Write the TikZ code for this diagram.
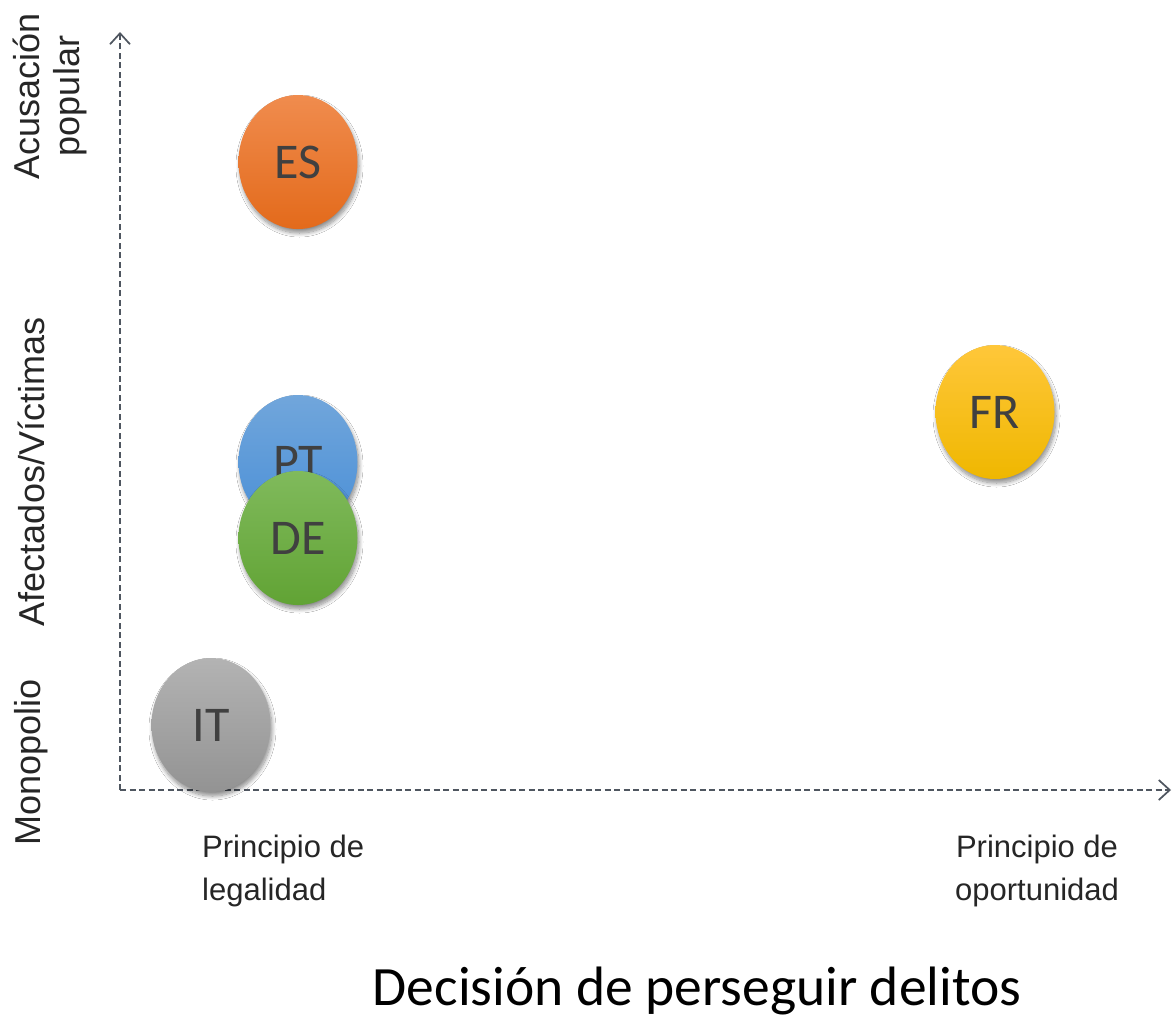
\documentclass[tikz,border=0pt]{standalone}
\usepackage{fontspec}
\setmainfont{Liberation Sans}
\newfontfamily\calib{Carlito}
\usetikzlibrary{shapes.geometric,arrows.meta,shadows.blur}
\definecolor{axisgray}{HTML}{4F5660}
\definecolor{txtgray}{HTML}{404040}
\definecolor{labgray}{HTML}{262626}
\definecolor{esTop}{HTML}{F08C4E}
\definecolor{esBot}{HTML}{E36A1B}
\definecolor{ptTop}{HTML}{71A6DB}
\definecolor{ptBot}{HTML}{4A8FD7}
\definecolor{deTop}{HTML}{80BA5C}
\definecolor{deBot}{HTML}{61A334}
\definecolor{itTop}{HTML}{B3B3B3}
\definecolor{itBot}{HTML}{939393}
\definecolor{frTop}{HTML}{FFC73A}
\definecolor{frBot}{HTML}{EFB700}
\begin{document}
\begin{tikzpicture}[x=1pt,y=-1pt,
  axis/.style={draw=axisgray,line width=1.7pt,dash pattern=on 6pt off 3.5pt,
    -{Straight Barb[length=11pt,width=20pt,line width=1.7pt]}},
  blob/.style={ellipse,minimum width=119pt,minimum height=134pt,inner sep=0pt,
    font=\calib\fontsize{50}{50}\selectfont,text=txtgray,
    blur shadow={shadow xshift=1.5pt,shadow yshift=-4pt,shadow blur steps=10,
      shadow blur radius=4pt,shadow opacity=45}},
  vlab/.style={rotate=90,align=center,text=labgray,font=\fontsize{36}{40}\selectfont},
  hlab/.style={text=labgray,font=\fontsize{31}{43}\selectfont,inner sep=0pt}]
\useasboundingbox (0,0) rectangle (1173,1018);
\fill[white] (0,0) rectangle (1173,1018);
% axes
\coordinate (origin) at (120,790);
\coordinate (xend) at (1171,790);
\coordinate (yend) at (120,32);
\draw[axis] (origin) -- (xend);
\draw[axis] (origin) -- (yend);
% country ellipses
\node[blob,top color=esTop,bottom color=esBot] (es) at (298,162) {ES};
\node[blob,top color=ptTop,bottom color=ptBot] (pt) at (298,462) {PT};
\node[blob,top color=deTop,bottom color=deBot] (de) at (298,538) {DE};
\node[blob,top color=itTop,bottom color=itBot] (it) at (211,725) {IT};
\node[blob,top color=frTop,bottom color=frBot] (fr) at (995,412) {FR};
% vertical axis labels
\node[vlab] (acus) at (50,96) {Acusación\\popular};
\node[vlab] (afec) at (31,472) {Afectados/Víctimas};
\node[vlab] (mono) at (31,762) {Monopolio};
% horizontal axis labels
\node[hlab,align=left,anchor=base west] (leg) at (202,900) {Principio de\\legalidad};
\node[hlab,align=center,anchor=base] (opo) at (1037,900) {Principio de\\oportunidad};
% title
\node[anchor=base,inner sep=0pt,text=black,font=\calib\fontsize{55.5}{60}\selectfont] (title) at (697,1005) {Decisión de perseguir delitos};
\end{tikzpicture}
\end{document}
